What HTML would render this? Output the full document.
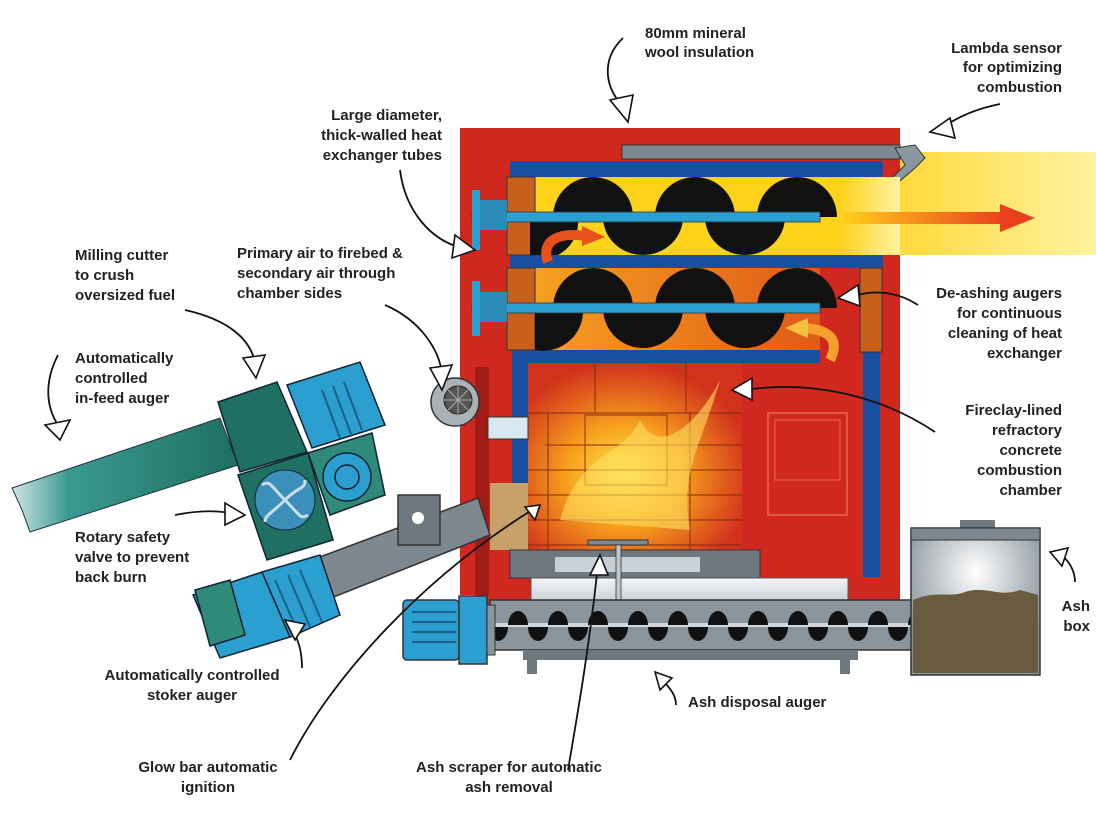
<!DOCTYPE html>
<html><head><meta charset="utf-8"><style>
html,body{margin:0;padding:0;background:#fff}
svg{display:block}
text{font-family:"Liberation Sans",sans-serif;font-weight:bold;font-size:15px;fill:#222}
</style></head><body>
<svg width="1096" height="822" viewBox="0 0 1096 822" xmlns="http://www.w3.org/2000/svg">
<defs>
<linearGradient id="flue" x1="0" x2="1"><stop offset="0" stop-color="#ffd21c"/><stop offset="1" stop-color="#fff2a0"/></linearGradient>
<linearGradient id="arr" x1="0" x2="1"><stop offset="0" stop-color="#ffd21c"/><stop offset="1" stop-color="#e8401c"/></linearGradient>
<linearGradient id="low" x1="0" x2="1"><stop offset="0" stop-color="#f5a020"/><stop offset="1" stop-color="#e05a18"/></linearGradient>
<radialGradient id="fire" cx="0.45" cy="0.6" r="0.6"><stop offset="0" stop-color="#ffe84a"/><stop offset="0.45" stop-color="#f7a01c"/><stop offset="1" stop-color="#d2321c"/></radialGradient>
<linearGradient id="teal" x1="0" x2="1"><stop offset="0" stop-color="#cfe6e6"/><stop offset="0.25" stop-color="#3a9a90"/><stop offset="1" stop-color="#1f6f62"/></linearGradient>
<linearGradient id="slab" x1="0" y1="0" x2="0" y2="1"><stop offset="0" stop-color="#f4f6f8"/><stop offset="1" stop-color="#b4bcc4"/></linearGradient>
<radialGradient id="boxg" cx="0.5" cy="0.3" r="0.6"><stop offset="0" stop-color="#fff"/><stop offset="1" stop-color="#8a949c"/></radialGradient>
</defs>

<!-- flue -->
<rect x="840" y="152" width="256" height="103" fill="url(#flue)"/>
<!-- red body -->
<path d="M460,128 H900 V612 H475 V595 H460 Z" fill="#d0281e"/>
<rect x="475" y="367" width="14" height="228" fill="#a01c16"/>
<!-- sensor tube -->
<rect x="622" y="145" width="278" height="14" fill="#7d8890" stroke="#333" stroke-width="1"/>
<polygon points="895,148 915,145 925,158 915,168 880,198 876,194 905,165" fill="#8a96a0" stroke="#333" stroke-width="1"/>
<!-- blue frame -->
<rect x="510" y="161" width="373" height="16" fill="#1a4fa0"/>
<rect x="510" y="255" width="373" height="13" fill="#1a4fa0"/>
<rect x="512" y="350" width="308" height="13" fill="#1a4fa0"/>
<rect x="512" y="350" width="16" height="137" fill="#1a4fa0"/>
<rect x="863" y="268" width="17" height="309" fill="#1a4fa0"/>
<!-- upper tube -->
<rect x="535" y="177" width="348" height="78" fill="#ffd21c"/>
<rect x="840" y="177" width="60" height="78" fill="url(#flue)"/>
<rect x="507" y="177" width="28" height="78" fill="#c8601c" stroke="#333" stroke-width="1"/>
<!-- lower tube -->
<rect x="535" y="268" width="285" height="82" fill="url(#low)"/>
<rect x="507" y="268" width="28" height="82" fill="#c8601c" stroke="#333" stroke-width="1"/>
<rect x="860" y="268" width="22" height="84" fill="#c8601c" stroke="#333" stroke-width="1"/>
<!-- helix lobes -->
<g fill="#111">
<path d="M553,217 A40,40 0 0 1 633,217 Z"/><path d="M655,217 A40,40 0 0 1 735,217 Z"/><path d="M757,217 A40,40 0 0 1 837,217 Z"/>
<path d="M535,217 L535,255 L563,255 A38,38 0 0 0 583,217 Z" transform="translate(-5,0)"/>
<path d="M603,217 A40,38 0 0 0 683,217 Z"/><path d="M705,217 A40,38 0 0 0 785,217 Z"/>
<path d="M553,308 A40,40 0 0 1 633,308 Z"/><path d="M655,308 A40,40 0 0 1 735,308 Z"/><path d="M757,308 A40,40 0 0 1 837,308 Z"/>
<path d="M535,308 L535,350 A40,40 0 0 0 583,308 Z"/>
<path d="M603,308 A40,40 0 0 0 683,308 Z"/><path d="M705,308 A40,40 0 0 0 785,308 Z"/>
</g>
<!-- shafts -->
<rect x="472" y="212" width="348" height="10" fill="#2a9fd0" stroke="#333" stroke-width="0.8"/>
<rect x="472" y="303" width="348" height="10" fill="#2a9fd0" stroke="#333" stroke-width="0.8"/>
<rect x="472" y="190" width="8" height="60" fill="#2a9fd0"/><rect x="480" y="200" width="27" height="30" fill="#2a8ab8"/>
<rect x="472" y="281" width="8" height="55" fill="#2a9fd0"/><rect x="480" y="292" width="27" height="30" fill="#2a8ab8"/>
<!-- flow arrows -->
<path d="M548,262 C540,240 560,232 585,236" fill="none" stroke="#e8501c" stroke-width="10"/>
<polygon points="582,226 605,237 582,246" fill="#e8501c"/>
<path d="M830,360 C840,340 830,330 805,328" fill="none" stroke="#f7a030" stroke-width="10"/>
<polygon points="808,318 785,328 808,338" fill="#f7c040"/>
<rect x="840" y="212" width="165" height="12" fill="url(#arr)"/>
<polygon points="1000,204 1035,218 1000,232" fill="#e8401c"/>
<!-- chamber -->
<rect x="528" y="363" width="214" height="187" fill="url(#fire)"/>
<g stroke="#7a2010" stroke-width="1.2" fill="none" opacity="0.7">
<path d="M528,413 H742 M545,445 H742 M528,470 H742 M528,495 H742 M528,520 H742 M528,545 H742"/>
<path d="M595,363 V413 M686,363 V413 M548,413 V550 M690,413 V550"/>
<rect x="585" y="415" width="82" height="70"/>
</g>
<path d="M560,520 C580,450 620,460 640,420 C660,460 700,420 720,380 C700,450 680,470 690,530 Z" fill="#ffe060" opacity="0.6"/>
<!-- door -->
<rect x="768" y="413" width="79" height="102" fill="none" stroke="#e86a40" stroke-width="1.5"/>
<rect x="775" y="420" width="65" height="60" fill="none" stroke="#e86a40" stroke-width="1"/>
<!-- fuel pile -->
<rect x="490" y="483" width="38" height="67" fill="#c8a06a"/>
<!-- bottom gray -->
<rect x="510" y="550" width="250" height="28" fill="#6e7880" stroke="#333" stroke-width="1"/>
<rect x="555" y="557" width="145" height="15" fill="#c9d0d6"/>
<rect x="531" y="578" width="317" height="37" fill="url(#slab)" stroke="#555" stroke-width="1"/>
<rect x="588" y="540" width="60" height="5" fill="#7d8890" stroke="#333"/>
<rect x="616" y="545" width="5" height="62" fill="#c0c8cf" stroke="#333" stroke-width="0.8"/>
<!-- fan -->
<circle cx="455" cy="402" r="24" fill="#aab2b8" stroke="#333" stroke-width="1.5"/>
<circle cx="458" cy="400" r="14" fill="#555" stroke="#222"/>
<path d="M458,386 V414 M444,400 H472 M448,390 L468,410 M468,390 L448,410" stroke="#aaa" stroke-width="1"/>
<rect x="488" y="417" width="40" height="22" fill="#d8e8f0" stroke="#333" stroke-width="1"/>
<!-- ash auger -->
<rect x="490" y="600" width="451" height="50" fill="#8a959e" stroke="#333" stroke-width="1.5"/>
<path d="M490,625 H941" stroke="#cfd6dc" stroke-width="4"/>
<g fill="#111">
<path d="M508,625 A10,14 0 0 1 528,625 Z"/><path d="M548,625 A10,14 0 0 1 568,625 Z"/><path d="M588,625 A10,14 0 0 1 608,625 Z"/><path d="M628,625 A10,14 0 0 1 648,625 Z"/><path d="M668,625 A10,14 0 0 1 688,625 Z"/><path d="M708,625 A10,14 0 0 1 728,625 Z"/><path d="M748,625 A10,14 0 0 1 768,625 Z"/><path d="M788,625 A10,14 0 0 1 808,625 Z"/><path d="M828,625 A10,14 0 0 1 848,625 Z"/><path d="M868,625 A10,14 0 0 1 888,625 Z"/><path d="M908,625 A10,14 0 0 1 928,625 Z"/>
<path d="M488,627 A10,14 0 0 0 508,627 Z"/><path d="M528,627 A10,14 0 0 0 548,627 Z"/><path d="M568,627 A10,14 0 0 0 588,627 Z"/><path d="M608,627 A10,14 0 0 0 628,627 Z"/><path d="M648,627 A10,14 0 0 0 668,627 Z"/><path d="M688,627 A10,14 0 0 0 708,627 Z"/><path d="M728,627 A10,14 0 0 0 748,627 Z"/><path d="M768,627 A10,14 0 0 0 788,627 Z"/><path d="M808,627 A10,14 0 0 0 828,627 Z"/><path d="M848,627 A10,14 0 0 0 868,627 Z"/><path d="M888,627 A10,14 0 0 0 908,627 Z"/>
</g>
<rect x="523" y="650" width="335" height="10" fill="#6e7880"/>
<rect x="527" y="660" width="10" height="14" fill="#6e7880"/><rect x="840" y="660" width="10" height="14" fill="#6e7880"/>
<rect x="403" y="600" width="56" height="60" rx="4" fill="#2a9fd0" stroke="#333" stroke-width="1.5"/>
<path d="M412,612 H456 M412,622 H456 M412,632 H456 M412,642 H456" stroke="#1a5f88" stroke-width="2"/>
<rect x="459" y="596" width="28" height="68" fill="#2a9fd0" stroke="#333" stroke-width="1.5"/>
<rect x="487" y="605" width="8" height="50" fill="#8a959e" stroke="#333"/>
<!-- ash box -->
<rect x="960" y="520" width="35" height="10" fill="#6e7880"/>
<rect x="911" y="528" width="129" height="147" fill="url(#boxg)" stroke="#333" stroke-width="1.5"/>
<rect x="911" y="528" width="129" height="12" fill="#7d8890" stroke="#333"/>
<path d="M913,600 C935,590 950,598 965,592 C985,585 1000,598 1020,590 L1038,595 V673 H913 Z" fill="#6a5a40"/>
<!-- stoker auger -->
<polygon points="312,560 478,498 490,535 326,600" fill="#7d8890" stroke="#333" stroke-width="1.5"/>
<rect x="398" y="495" width="42" height="50" fill="#6e7880" stroke="#333" stroke-width="1.5"/>
<circle cx="418" cy="518" r="6" fill="#fff"/>
<!-- in-feed teal auger -->
<polygon points="12,488 220,418 238,465 30,532 22,510" fill="url(#teal)" stroke="#234" stroke-width="1"/>
<polygon points="218,402 277,382 307,452 240,472" fill="#1f6f62" stroke="#123" stroke-width="1.5"/>
<polygon points="238,475 308,453 333,540 267,560" fill="#1f6f62" stroke="#123" stroke-width="1.5"/>
<circle cx="285" cy="500" r="30" fill="#3a90b8" stroke="#123" stroke-width="1"/>
<path d="M285,500 C270,485 270,480 262,485 M285,500 C300,485 305,490 305,480 M285,500 C300,515 300,520 308,515 M285,500 C270,515 265,515 265,522" stroke="#cde" stroke-width="3" fill="none"/>
<polygon points="287,385 360,362 385,425 312,448" fill="#2a9fd0" stroke="#123" stroke-width="1.5"/>
<path d="M322,390 L340,438 M333,386 L351,434 M344,382 L362,430" stroke="#1a5f88" stroke-width="2"/>
<polygon points="308,453 372,433 385,495 330,515" fill="#2f8a7a" stroke="#123" stroke-width="1.5"/>
<circle cx="347" cy="477" r="24" fill="#2a9fd0" stroke="#123" stroke-width="1.5"/>
<circle cx="347" cy="477" r="12" fill="none" stroke="#123" stroke-width="1.5"/>
<polygon points="193,595 262,572 290,637 220,658" fill="#2a9fd0" stroke="#123" stroke-width="1.5"/>
<polygon points="262,572 320,555 340,615 290,637" fill="#2a9fd0" stroke="#123" stroke-width="1.5"/>
<path d="M275,580 L298,632 M288,575 L310,627 M300,570 L322,622" stroke="#1a5f88" stroke-width="2"/>
<polygon points="195,590 230,580 245,635 210,646" fill="#2f8a7a" stroke="#123" stroke-width="1.5"/>

<!-- connectors -->
<g fill="none" stroke="#111" stroke-width="1.8">
<path d="M623,38 C600,60 605,90 625,108"/>
<path d="M1000,104 C980,108 960,115 942,128"/>
<path d="M400,170 C405,210 430,240 462,248"/>
<path d="M185,310 C230,320 250,340 255,362"/>
<path d="M385,305 C420,320 440,350 442,375"/>
<path d="M918,305 C895,290 870,290 852,297"/>
<path d="M58,355 C45,380 45,405 58,425"/>
<path d="M935,432 C880,395 810,380 745,390"/>
<path d="M175,515 C200,510 220,510 240,515"/>
<path d="M1075,582 C1075,570 1068,560 1062,556"/>
<path d="M302,668 C302,650 298,640 292,628"/>
<path d="M676,705 C676,695 670,688 662,680"/>
<path d="M290,760 C330,680 420,580 532,510"/>
<path d="M568,770 C580,700 590,640 598,565"/>
</g>
<g fill="#fff" stroke="#111" stroke-width="1.6">
<polygon points="610,100 633,95 628,122"/>
<polygon points="930,132 950,118 955,138"/>
<polygon points="455,235 475,250 452,258"/>
<polygon points="243,358 265,355 256,378"/>
<polygon points="430,368 452,365 442,390"/>
<polygon points="838,298 858,285 860,306"/>
<polygon points="45,425 70,420 60,440"/>
<polygon points="732,390 752,378 752,400"/>
<polygon points="245,515 225,503 225,525"/>
<polygon points="1050,552 1068,548 1062,566"/>
<polygon points="285,620 305,624 295,640"/>
<polygon points="655,672 672,678 660,690"/>
<polygon points="540,505 525,507 535,520"/>
<polygon points="600,555 590,575 608,575"/>
</g>

<!-- labels -->
<text x="645" y="38">80mm mineral</text>
<text x="645" y="57">wool insulation</text>
<g text-anchor="end">
<text x="1062" y="53">Lambda sensor</text>
<text x="1062" y="72">for optimizing</text>
<text x="1062" y="92">combustion</text>
<text x="442" y="120">Large diameter,</text>
<text x="442" y="140">thick-walled heat</text>
<text x="442" y="160">exchanger tubes</text>
<text x="1062" y="298">De-ashing augers</text>
<text x="1062" y="318">for continuous</text>
<text x="1062" y="338">cleaning of heat</text>
<text x="1062" y="358">exchanger</text>
<text x="1062" y="415">Fireclay-lined</text>
<text x="1062" y="435">refractory</text>
<text x="1062" y="455">concrete</text>
<text x="1062" y="475">combustion</text>
<text x="1062" y="495">chamber</text>
<text x="1090" y="611">Ash</text>
<text x="1090" y="631">box</text>
</g>
<text x="75" y="260">Milling cutter</text>
<text x="75" y="280">to crush</text>
<text x="75" y="300">oversized fuel</text>
<text x="237" y="258">Primary air to firebed &amp;</text>
<text x="237" y="278">secondary air through</text>
<text x="237" y="298">chamber sides</text>
<text x="75" y="363">Automatically</text>
<text x="75" y="383">controlled</text>
<text x="75" y="403">in-feed auger</text>
<text x="75" y="542">Rotary safety</text>
<text x="75" y="562">valve to prevent</text>
<text x="75" y="582">back burn</text>
<g text-anchor="middle">
<text x="192" y="680">Automatically controlled</text>
<text x="192" y="700">stoker auger</text>
<text x="208" y="772">Glow bar automatic</text>
<text x="208" y="792">ignition</text>
<text x="509" y="772">Ash scraper for automatic</text>
<text x="509" y="792">ash removal</text>
</g>
<text x="688" y="707">Ash disposal auger</text>
</svg>
</body></html>
